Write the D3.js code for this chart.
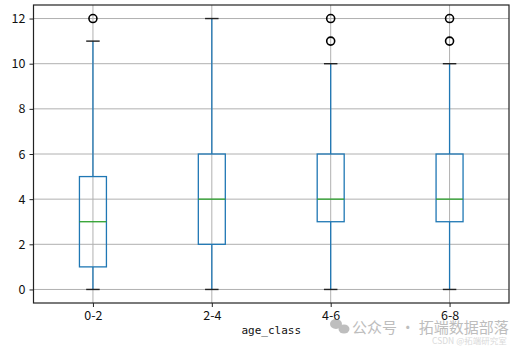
<!DOCTYPE html>
<html><head><meta charset="utf-8">
<script src="https://cdn.jsdelivr.net/npm/d3@7"></script>
<style>body{margin:0;background:#fff}svg{display:block}</style>
</head><body>
<svg id="c" width="520" height="350"></svg>
<script>
const categories = ["0-2", "2-4", "4-6", "6-8"];
const whiskerLow = [0, 0, 0, 0];
const q1 = [1, 2, 3, 3];
const medians = [3, 4, 4, 4];
const q3 = [5, 6, 6, 6];
const whiskerHigh = [11, 12, 10, 10];
const outliers = [[12], [], [11, 12], [11, 12]];
const yTicks = [0, 2, 4, 6, 8, 10, 12];
const xLabel = "age_class";

const svg = d3.select("#c");
const L = 33.5, R = 509, T = 5, B = 303;
const x = d3.scaleLinear().domain([0.5, 4.5]).range([L, R]);
const y = d3.scaleLinear().domain([-0.6, 12.6]).range([B, T]);
const pos = categories.map((d, i) => i + 1);
const boxW = x(1.227) - x(1);
const capW = boxW / 2;
const font = "'Noto Sans CJK SC', 'DejaVu Sans', sans-serif";

// grid
const g = svg.append("g");
g.selectAll(".gy").data(yTicks).enter().append("line")
  .attr("x1", L).attr("x2", R).attr("y1", d => y(d)).attr("y2", d => y(d))
  .attr("stroke", "#b0b0b0").attr("stroke-width", 1);
g.selectAll(".gx").data(pos).enter().append("line")
  .attr("y1", T).attr("y2", B).attr("x1", d => x(d)).attr("x2", d => x(d))
  .attr("stroke", "#b0b0b0").attr("stroke-width", 1);

// boxes
const b = svg.append("g");
categories.forEach((c, i) => {
  const cx = x(pos[i]);
  b.append("line").attr("x1", cx).attr("x2", cx).attr("y1", y(whiskerLow[i])).attr("y2", y(q1[i]))
    .attr("stroke", "#1f77b4").attr("stroke-width", 1.3);
  b.append("line").attr("x1", cx).attr("x2", cx).attr("y1", y(q3[i])).attr("y2", y(whiskerHigh[i]))
    .attr("stroke", "#1f77b4").attr("stroke-width", 1.3);
  b.append("rect").attr("x", cx - boxW / 2).attr("width", boxW)
    .attr("y", y(q3[i])).attr("height", y(q1[i]) - y(q3[i]))
    .attr("fill", "none").attr("stroke", "#1f77b4").attr("stroke-width", 1.3);
  b.append("line").attr("x1", cx - boxW / 2).attr("x2", cx + boxW / 2).attr("y1", y(medians[i])).attr("y2", y(medians[i]))
    .attr("stroke", "#2ca02c").attr("stroke-width", 1.3);
  [whiskerLow[i], whiskerHigh[i]].forEach(v => {
    b.append("line").attr("x1", cx - capW / 2).attr("x2", cx + capW / 2).attr("y1", y(v)).attr("y2", y(v))
      .attr("stroke", "#222").attr("stroke-width", 1.4);
  });
  outliers[i].forEach(v => {
    b.append("circle").attr("cx", cx).attr("cy", y(v)).attr("r", 4)
      .attr("fill", "none").attr("stroke", "#000").attr("stroke-width", 1.6);
  });
});

// frame
svg.append("rect").attr("x", L).attr("y", T).attr("width", R - L).attr("height", B - T)
  .attr("fill", "none").attr("stroke", "#222").attr("stroke-width", 1.2);

// axes
const yAxis = d3.axisLeft(y).tickValues(yTicks).tickSize(4).tickPadding(4);
const ya = svg.append("g").attr("transform", `translate(${L},0)`).call(yAxis);
const xAxis = d3.axisBottom(x).tickValues(pos).tickFormat((d, i) => categories[i]).tickSize(4).tickPadding(4);
const xa = svg.append("g").attr("transform", `translate(0,${B})`).call(xAxis);
[ya, xa].forEach(a => {
  a.select(".domain").remove();
  a.selectAll(".tick line").attr("stroke", "#222");
  a.selectAll("text").attr("fill", "#111").style("font-family", font).style("font-size", "12.5px");
});

svg.append("text").attr("x", (L + R) / 2).attr("y", 334).attr("text-anchor", "middle")
  .style("font-family", "'DejaVu Sans Mono', monospace").style("font-size", "11px").attr("fill", "#111")
  .text(xLabel);

// watermark
const wm = svg.append("g").attr("opacity", 0.55);
wm.append("ellipse").attr("cx", 336).attr("cy", 324).attr("rx", 6).attr("ry", 5).attr("fill", "#8a8a8a");
wm.append("ellipse").attr("cx", 344).attr("cy", 329).attr("rx", 5.5).attr("ry", 4.5).attr("fill", "#8a8a8a");
wm.append("text").attr("x", 352).attr("y", 333).style("font-family", font).style("font-size", "15px")
  .attr("fill", "#888").text("公众号 · 拓端数据部落");
wm.append("text").attr("x", 432).attr("y", 344).style("font-family", font).style("font-size", "8.5px")
  .attr("fill", "#bbb").text("CSDN @拓端研究室");
</script>
</body></html>
